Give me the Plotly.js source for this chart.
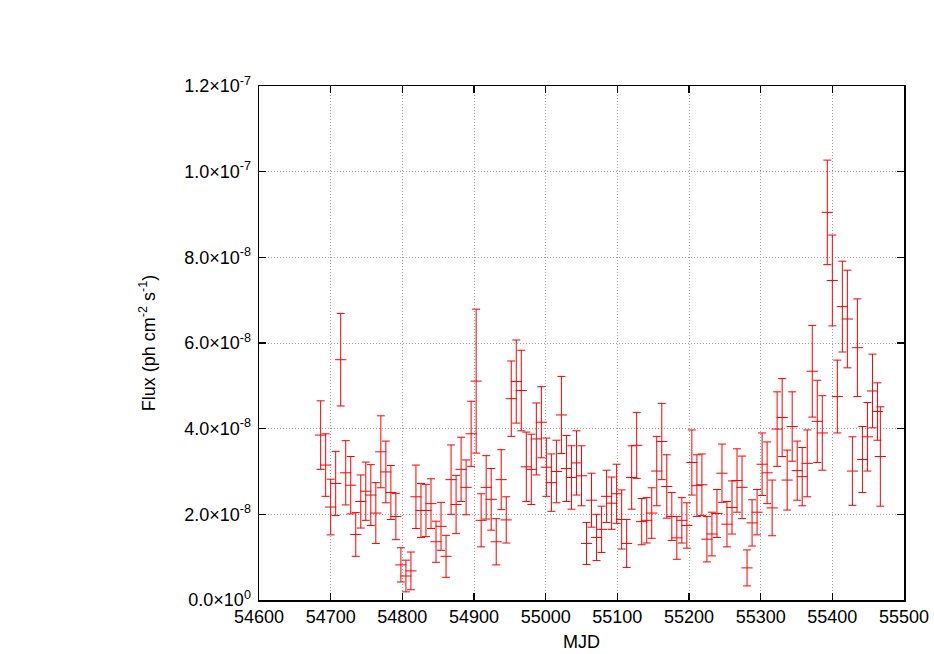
<!DOCTYPE html>
<html>
<head>
<meta charset="utf-8">
<script src="https://cdn.plot.ly/plotly-3.0.1.min.js"></script>
<style>
  html, body { margin: 0; padding: 0; background: #fff; }
  #chart { width: 934px; height: 654px; }
</style>
</head>
<body>
<div id="chart"></div>
<script>
// weekly bins, MJD
const mjd = [
  54686, 54693, 54700, 54707, 54714, 54721, 54728, 54735, 54742, 54749,
  54756, 54763, 54770, 54777, 54784, 54791, 54798, 54805, 54812, 54819,
  54826, 54833, 54840, 54847, 54854, 54861, 54868, 54875, 54882, 54889,
  54896, 54903, 54910, 54917, 54924, 54931, 54938, 54945, 54952, 54959,
  54966, 54973, 54980, 54987, 54994, 55001, 55008, 55015, 55022, 55029,
  55036, 55043, 55050, 55057, 55064, 55071, 55078, 55085, 55092, 55099,
  55106, 55113, 55120, 55127, 55134, 55141, 55148, 55155, 55162, 55169,
  55176, 55183, 55190, 55197, 55204, 55211, 55218, 55225, 55232, 55239,
  55246, 55253, 55260, 55267, 55274, 55281, 55288, 55295, 55302, 55309,
  55316, 55323, 55330, 55337, 55344, 55351, 55358, 55365, 55372, 55379,
  55386, 55393, 55400, 55407, 55414, 55421, 55428, 55435, 55442, 55449,
  55456, 55463, 55467
];
// flux in units of 1e-8 ph cm^-2 s^-1
const flux = [
  3.85, 3.15, 2.17, 2.72, 5.61, 2.97, 2.68, 1.53, 2.30, 2.54,
  2.45, 2.03, 3.46, 2.99, 2.51, 1.95, 0.82, 0.56, 0.68, 2.41,
  2.09, 2.09, 2.25, 1.36, 1.72, 1.02, 2.81, 2.23, 3.05, 2.63,
  3.88, 5.11, 1.86, 2.63, 2.35, 1.36, 2.81, 1.87, 4.70, 5.10,
  4.89, 3.11, 3.05, 3.76, 4.15, 3.10, 2.74, 3.00, 4.32, 3.07,
  2.86, 3.20, 2.90, 1.32, 2.33, 1.46, 1.65, 2.42, 2.26, 2.48,
  1.88, 1.32, 2.86, 3.61, 1.83, 1.86, 2.03, 3.01, 3.70, 2.65,
  1.95, 1.45, 1.86, 1.74, 3.21, 2.67, 2.69, 1.42, 1.54, 2.02,
  2.96, 1.77, 2.16, 2.79, 2.63, 0.75, 1.80, 2.05, 3.17, 2.97,
  2.15, 3.99, 4.26, 2.80, 4.05, 3.02, 2.88, 3.19, 5.34, 4.17,
  3.90, 9.05, 7.46, 4.75, 6.85, 6.56, 3.01, 5.89, 3.28, 3.81,
  4.88, 4.40, 3.35
];
const fluxErr = [
  0.80, 0.73, 0.65, 0.75, 1.08, 0.75, 0.67, 0.51, 0.62, 0.68,
  0.71, 0.71, 0.84, 0.72, 0.63, 0.54, 0.40, 0.37, 0.44, 0.74,
  0.63, 0.61, 0.58, 0.48, 0.56, 0.49, 0.81, 0.68, 0.75, 0.64,
  0.76, 1.68, 0.62, 0.74, 0.72, 0.54, 0.70, 0.54, 0.88, 0.97,
  0.94, 0.81, 0.82, 0.84, 0.83, 0.68, 0.67, 0.73, 0.90, 0.77,
  0.74, 0.75, 0.70, 0.49, 0.63, 0.54, 0.54, 0.61, 0.61, 0.69,
  0.69, 0.56, 0.74, 0.77, 0.54, 0.53, 0.59, 0.81, 0.89, 0.74,
  0.56, 0.50, 0.53, 0.53, 0.76, 0.72, 0.72, 0.53, 0.51, 0.56,
  0.68, 0.53, 0.62, 0.74, 0.73, 0.42, 0.54, 0.53, 0.73, 0.72,
  0.65, 0.87, 0.91, 0.70, 0.81, 0.69, 0.68, 0.78, 1.07, 0.96,
  0.87, 1.22, 1.06, 0.85, 1.06, 1.14, 0.80, 1.14, 0.77, 0.80,
  0.86, 0.67, 1.16
];
const yTickVals = [0, 2e-8, 4e-8, 6e-8, 8e-8, 1e-7, 1.2e-7];
const yTickText = [
  '0.0×10<sup>0</sup>', '2.0×10<sup>-8</sup>', '4.0×10<sup>-8</sup>',
  '6.0×10<sup>-8</sup>', '8.0×10<sup>-8</sup>', '1.0×10<sup>-7</sup>',
  '1.2×10<sup>-7</sup>'
];

const red = 'rgb(255,0,0)';
const font = {family: '"Liberation Sans", Arial, sans-serif', size: 18, color: '#000'};

const trace = {
  type: 'scatter',
  mode: 'markers',
  x: mjd,
  y: flux.map(v => v * 1e-8),
  error_y: {type: 'data', array: fluxErr.map(v => v * 1e-8), color: red, thickness: 1, width: 4},
  marker: {symbol: 'line-ew', size: 8, color: red, line: {color: red, width: 1}},
  showlegend: false
};

const axisCommon = {
  showline: true, linecolor: '#000', linewidth: 1.5, mirror: 'ticks',
  ticks: 'inside', ticklen: 7, tickwidth: 1.5, tickcolor: '#000',
  showgrid: true, gridcolor: '#a0a0a0', griddash: '1px,2px', gridwidth: 1,
  zeroline: false, tickfont: font
};

const layout = {
  width: 934, height: 654,
  margin: {l: 259, r: 30, t: 86, b: 54},
  paper_bgcolor: '#fff', plot_bgcolor: '#fff',
  font: font,
  xaxis: Object.assign({}, axisCommon, {
    range: [54600, 55500], dtick: 100, tick0: 54600, tickformat: 'd',
    title: {text: 'MJD', font: font, standoff: 9}
  }),
  yaxis: Object.assign({}, axisCommon, {
    range: [0, 1.2e-7], tickmode: 'array', tickvals: yTickVals, ticktext: yTickText,
    ticklabelstandoff: 3,
    title: {text: 'Flux (ph cm<sup>-2</sup> s<sup>-1</sup>)', font: font, standoff: 24}
  })
};

Plotly.newPlot('chart', [trace], layout, {displayModeBar: false, staticPlot: true});
</script>
</body>
</html>
